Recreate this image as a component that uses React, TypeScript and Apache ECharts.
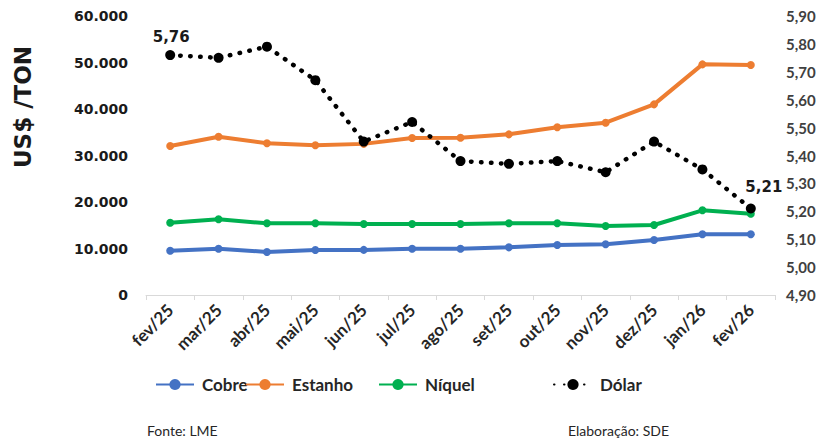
import React, { useEffect, useRef } from "react";
import * as echarts from "echarts";

const categories = ["fev/25", "mar/25", "abr/25", "mai/25", "jun/25", "jul/25", "ago/25", "set/25", "out/25", "nov/25", "dez/25", "jan/26", "fev/26"];
const cobre = [9530, 9950, 9250, 9680, 9700, 9950, 9950, 10250, 10750, 10900, 11830, 13050, 13050];
const estanho = [32050, 34050, 32620, 32190, 32500, 33760, 33830, 34550, 36060, 37060, 41000, 49600, 49460];
const niquel = [15550, 16280, 15420, 15420, 15270, 15270, 15270, 15420, 15420, 14840, 15050, 18210, 17490];
const dolar = [5.76, 5.75, 5.79, 5.67, 5.45, 5.52, 5.38, 5.37, 5.38, 5.34, 5.45, 5.35, 5.21];
const leftTicks = { min: 0, max: 60000, interval: 10000 };
const rightTicks = { min: 4.9, max: 5.9, interval: 0.1 };

const BLUE = "#4472C4";
const ORANGE = "#ED7D31";
const GREEN = "#00B050";
const BLACK = "#000000";

export default function App() {
  const ref = useRef<HTMLDivElement>(null);
  useEffect(() => {
    if (!ref.current) return;
    const chart = echarts.init(ref.current, undefined, { renderer: "svg" });
    const lineSeries = (name: string, data: number[], color: string) => ({
      name,
      type: "line",
      data,
      yAxisIndex: 0,
      symbol: "circle",
      symbolSize: 8,
      itemStyle: { color },
      lineStyle: { color, width: 4 },
    });
    const legendBase = {
      top: 376,
      itemWidth: 38,
      itemHeight: 14,
      itemGap: 0,
      padding: 0,
      textStyle: { fontFamily: "Lato", fontWeight: "bold", fontSize: 17, color: "#262626", padding: [0, 0, 0, 3] },
    };
    chart.setOption({
      animation: false,
      grid: { left: 146, right: 53, top: 16, bottom: 147, containLabel: false },
      xAxis: {
        type: "category",
        data: categories,
        boundaryGap: true,
        axisLine: { lineStyle: { color: "#d9d9d9", width: 1 } },
        axisTick: { show: true, length: 5, lineStyle: { color: "#d9d9d9" } },
        axisLabel: {
          rotate: 45,
          margin: 12,
          fontFamily: "Lato",
          fontWeight: "bold",
          fontSize: 17,
          color: "#262626",
          interval: 0,
        },
      },
      yAxis: [
        {
          type: "value",
          min: leftTicks.min,
          max: leftTicks.max,
          interval: leftTicks.interval,
          splitLine: { show: false },
          axisLine: { show: false },
          axisTick: { show: false },
          axisLabel: {
            margin: 18,
            fontFamily: "DejaVu Sans",
            fontWeight: "bold",
            fontSize: 14,
            color: "#1a1a1a",
            formatter: (v: number) => (v === 0 ? "0" : v.toLocaleString("de-DE")),
          },
        },
        {
          type: "value",
          position: "right",
          min: rightTicks.min,
          max: rightTicks.max,
          interval: rightTicks.interval,
          splitLine: { show: false },
          axisLine: { show: false },
          axisTick: { show: false },
          axisLabel: {
            margin: 11,
            fontFamily: "Lato",
            fontWeight: "bold",
            fontSize: 15,
            color: "#404040",
            formatter: (v: number) => v.toFixed(2).replace(".", ","),
          },
        },
      ],
      legend: [
        { ...legendBase, left: 155, data: ["Cobre"] },
        { ...legendBase, left: 245, data: ["Estanho"] },
        { ...legendBase, left: 378, data: ["Níquel"] },
        { ...legendBase, left: 553, data: ["Dólar"] },
      ],
      series: [
        lineSeries("Cobre", cobre, BLUE),
        lineSeries("Estanho", estanho, ORANGE),
        lineSeries("Níquel", niquel, GREEN),
        {
          name: "Dólar",
          type: "line",
          yAxisIndex: 1,
          data: dolar.map((v, i) => {
            if (i === 0) {
              return { value: v, label: { show: true, position: "top", offset: [1, -1] } };
            }
            if (i === dolar.length - 1) {
              return { value: v, label: { show: true, position: "top", offset: [13, -4] } };
            }
            return v;
          }),
          symbol: "circle",
          symbolSize: 10,
          itemStyle: { color: BLACK },
          lineStyle: { color: BLACK, width: 4.5, type: [0.5, 9.5], cap: "round" },
          label: {
            show: false,
            fontFamily: "DejaVu Sans",
            fontWeight: "bold",
            fontSize: 15,
            color: "#1a1a1a",
            formatter: (p: any) => Number(p.value).toFixed(2).replace(".", ","),
          },
          z: 5,
        },
      ],
      graphic: [
        {
          type: "text",
          x: 23,
          y: 107,
          rotation: Math.PI / 2,
          style: {
            text: "US$ /TON",
            fontFamily: "DejaVu Sans",
            fontWeight: "bold",
            fontSize: 23,
            fill: "#1a1a1a",
            align: "center",
            verticalAlign: "middle",
          },
        },
        {
          type: "text",
          x: 147,
          y: 430,
          style: { text: "Fonte: LME", fontFamily: "Lato", fontSize: 14, fill: "#262626", verticalAlign: "middle" },
        },
        {
          type: "text",
          x: 568,
          y: 430,
          style: { text: "Elaboração: SDE", fontFamily: "Lato", fontSize: 14, fill: "#262626", verticalAlign: "middle" },
        },
      ],
    });
    return () => chart.dispose();
  }, []);
  return (
    <div
      ref={ref}
      style={{ position: "fixed", left: 0, top: 0, width: 828, height: 442, background: "#ffffff" }}
    />
  );
}
